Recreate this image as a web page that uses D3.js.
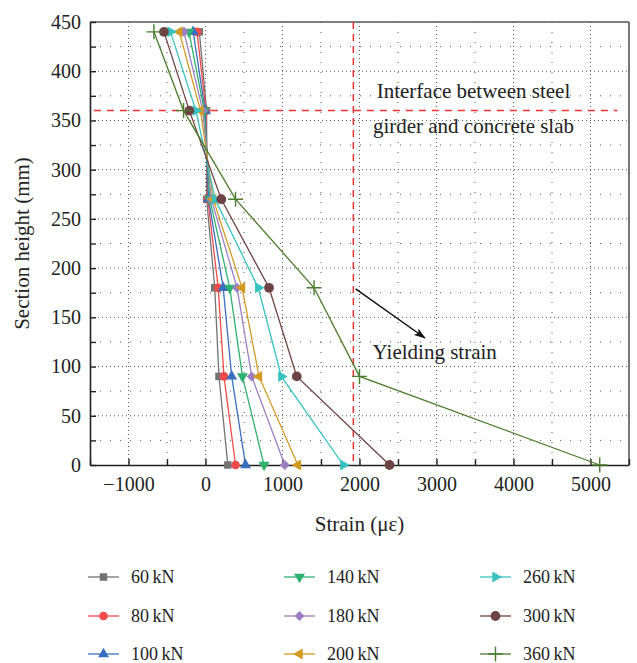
<!DOCTYPE html>
<html>
<head>
<meta charset="utf-8">
<script src="https://cdn.jsdelivr.net/npm/d3@7"></script>
<style>
  body { margin: 0; background: #fff; }
  svg { display: block; font-family: "Liberation Serif", "Times New Roman", serif; }
</style>
</head>
<body>
<svg id="chart" width="637" height="663"></svg>
<script>
// section heights where strain gauges sit (mm)
const heights = [440, 360, 270, 180, 90, 0];
const loads = [60, 80, 100, 140, 180, 200, 260, 300, 360];

// strain (με) at each height, one array per load step
const strain60  = [-80, 15, 15, 120, 175, 290];
const strain80  = [-110, 5, 30, 165, 240, 390];
const strain100 = [-160, -5, 40, 230, 340, 520];
const strain140 = [-215, -15, 55, 315, 480, 760];
const strain180 = [-280, -35, 75, 410, 600, 1030];
const strain200 = [-340, -65, 100, 475, 695, 1200];
const strain260 = [-455, -125, 125, 685, 985, 1790];
const strain300 = [-540, -210, 205, 825, 1185, 2390];
const strain360 = [-670, -285, 390, 1410, 2000, 5120];

const xTicks = d3.range(-1500, 5501, 500);
const yTicks = d3.range(0, 451, 25);
const yieldStrain = 1920;
const interfaceHeight = 360;

const allStrains = [strain60, strain80, strain100, strain140, strain180,
                    strain200, strain260, strain300, strain360];

const colors = ["#737373", "#ef4b4b", "#3a6ebf", "#2fb26f", "#9b7fc2",
                "#d39a22", "#37c1c1", "#6e4343", "#4b7b2c"];
const shapes = ["square", "circle", "up", "down", "diamond", "left", "right", "bigcircle", "plus"];

const series = loads.map((l, i) => ({
    load: l,
    color: colors[i],
    shape: shapes[i],
    points: heights.map((h, j) => ({ h: h, s: allStrains[i][j] }))
}));

const margin = { top: 22, right: 8, bottom: 198, left: 90 };
const W = 637, H = 663;
const w = W - margin.left - margin.right;
const h = H - margin.top - margin.bottom;

const svg = d3.select("#chart");
const chart = svg.append("g")
    .attr("transform", `translate(${margin.left},${margin.top})`);

const x = d3.scaleLinear().domain([-1500, 5500]).range([0, w]);
const y = d3.scaleLinear().domain([0, 450]).range([h, 0]);

// grid: dense dots on the labelled values, sparse dots in between
const isMajorX = v => v % 1000 === 0;
const isMajorY = v => v % 50 === 0;

chart.append("g").selectAll("line")
    .data(xTicks.filter(v => v > -1500 && v < 5500))
    .join("line")
    .attr("x1", d => x(d)).attr("x2", d => x(d))
    .attr("y1", 0).attr("y2", h)
    .attr("stroke", "#555")
    .attr("stroke-width", 1)
    .attr("stroke-dasharray", d => isMajorX(d) ? "1,3" : "1,9");

chart.append("g").selectAll("line")
    .data(yTicks.filter(v => v > 0 && v < 450))
    .join("line")
    .attr("x1", 0).attr("x2", w)
    .attr("y1", d => y(d)).attr("y2", d => y(d))
    .attr("stroke", "#555")
    .attr("stroke-width", 1)
    .attr("stroke-dasharray", d => isMajorY(d) ? "1,3" : "1,9");

// top and right frame
chart.append("line").attr("x1", 0).attr("x2", w).attr("y1", 0).attr("y2", 0)
    .attr("stroke", "#555").attr("stroke-width", 1.6);
chart.append("line").attr("x1", w).attr("x2", w).attr("y1", 0).attr("y2", h)
    .attr("stroke", "#555").attr("stroke-width", 1.6);

// axes
const xAxis = d3.axisBottom(x)
    .tickValues(xTicks)
    .tickSize(-6)
    .tickPadding(12)
    .tickSizeOuter(0)
    .tickFormat(d => (isMajorX(d) && d > -1500 && d < 5500) ? d3.format("")(d) : "");
const yAxis = d3.axisLeft(y)
    .tickValues(yTicks)
    .tickSize(-6)
    .tickPadding(9)
    .tickSizeOuter(0)
    .tickFormat(d => isMajorY(d) ? d : "");

const xg = chart.append("g").attr("transform", `translate(0,${h})`).call(xAxis);
const yg = chart.append("g").call(yAxis);
[xg, yg].forEach(g => {
    g.attr("font-family", null).attr("font-size", null);
    g.selectAll("path.domain").attr("stroke", "#222").attr("stroke-width", 1.6);
    g.selectAll(".tick line").attr("stroke", "#222").attr("stroke-width", 1.4);
    g.selectAll(".tick text").attr("fill", "#222").style("font-size", "20px")
        .style("font-family", '"Liberation Serif", serif');
});

// axis titles
chart.append("text")
    .attr("x", w / 2).attr("y", h + 66)
    .attr("text-anchor", "middle")
    .style("font-size", "21px").attr("fill", "#222")
    .text("Strain (με)");
chart.append("text")
    .attr("transform", "rotate(-90)")
    .attr("x", -h / 2).attr("y", -61)
    .attr("text-anchor", "middle")
    .style("font-size", "21px").attr("fill", "#222")
    .text("Section height (mm)");

// reference lines
chart.append("line")
    .attr("x1", x(-1450)).attr("x2", x(5350))
    .attr("y1", y(interfaceHeight)).attr("y2", y(interfaceHeight))
    .attr("stroke", "#ee3030").attr("stroke-width", 1.5)
    .attr("stroke-dasharray", "7,6");
chart.append("line")
    .attr("x1", x(yieldStrain)).attr("x2", x(yieldStrain))
    .attr("y1", 0).attr("y2", h)
    .attr("stroke", "#ee3030").attr("stroke-width", 1.5)
    .attr("stroke-dasharray", "7,5");

// arrow + annotations
svg.append("defs").append("marker")
    .attr("id", "arrow")
    .attr("viewBox", "0 0 12 8")
    .attr("refX", 11).attr("refY", 4)
    .attr("markerWidth", 12).attr("markerHeight", 8)
    .attr("markerUnits", "userSpaceOnUse")
    .attr("orient", "auto")
    .append("path").attr("d", "M0,0 L12,4 L0,8 L3,4 Z").attr("fill", "#111");

chart.append("line")
    .attr("x1", x(1950)).attr("y1", y(179))
    .attr("x2", x(2850)).attr("y2", y(129))
    .attr("stroke", "#111").attr("stroke-width", 1.5)
    .attr("marker-end", "url(#arrow)");

chart.append("text")
    .attr("x", x(2170)).attr("y", y(108))
    .style("font-size", "21px").attr("fill", "#222")
    .text("Yielding strain");
chart.append("text")
    .attr("x", x(3480)).attr("y", y(373))
    .attr("text-anchor", "middle")
    .style("font-size", "21px").attr("fill", "#222")
    .text("Interface between steel");
chart.append("text")
    .attr("x", x(3480)).attr("y", y(337))
    .attr("text-anchor", "middle")
    .style("font-size", "21px").attr("fill", "#222")
    .text("girder and concrete slab");

// marker drawing
function drawMarker(g, shape, color) {
    const sym = d3.symbol();
    if (shape === "plus") {
        g.append("path").attr("d", "M-7.5,0H7.5M0,-7.5V7.5")
            .attr("stroke", color).attr("stroke-width", 1.4).attr("fill", "none");
        return;
    }
    let path, rot = 0;
    if (shape === "square") path = sym.type(d3.symbolSquare).size(56)();
    else if (shape === "circle") path = sym.type(d3.symbolCircle).size(60)();
    else if (shape === "bigcircle") path = sym.type(d3.symbolCircle).size(75)();
    else if (shape === "diamond") { path = sym.type(d3.symbolSquare).size(50)(); rot = 45; }
    else {
        path = sym.type(d3.symbolTriangle).size(52)();
        rot = { up: 0, down: 180, left: -90, right: 90 }[shape];
    }
    g.append("path").attr("d", path)
        .attr("transform", `rotate(${rot})`)
        .attr("fill", color);
}

const line = d3.line().x(d => x(d.s)).y(d => y(d.h));

series.forEach(s => {
    const g = chart.append("g");
    g.append("path").datum(s.points)
        .attr("d", line)
        .attr("fill", "none")
        .attr("stroke", s.color)
        .attr("stroke-width", 1.3);
    s.points.forEach(p => {
        const mg = g.append("g").attr("transform", `translate(${x(p.s)},${y(p.h)})`);
        drawMarker(mg, s.shape, s.color);
    });
});

// legend: 3 columns x 3 rows
const legendCols = [88, 284, 480];
const legendRows = [577, 616, 654];
series.forEach((s, i) => {
    const lx = legendCols[Math.floor(i / 3)];
    const ly = legendRows[i % 3];
    const g = svg.append("g").attr("transform", `translate(${lx},${ly})`);
    g.append("line").attr("x1", 0).attr("x2", 31).attr("y1", 0).attr("y2", 0)
        .attr("stroke", s.color).attr("stroke-width", 1.3);
    const mg = g.append("g").attr("transform", "translate(15.5,0)");
    drawMarker(mg, s.shape, s.color);
    g.append("text")
        .attr("x", 43).attr("y", 5.5)
        .style("font-size", "18px").attr("fill", "#222")
        .text(s.load + "\u2009kN");
});
</script>
</body>
</html>
